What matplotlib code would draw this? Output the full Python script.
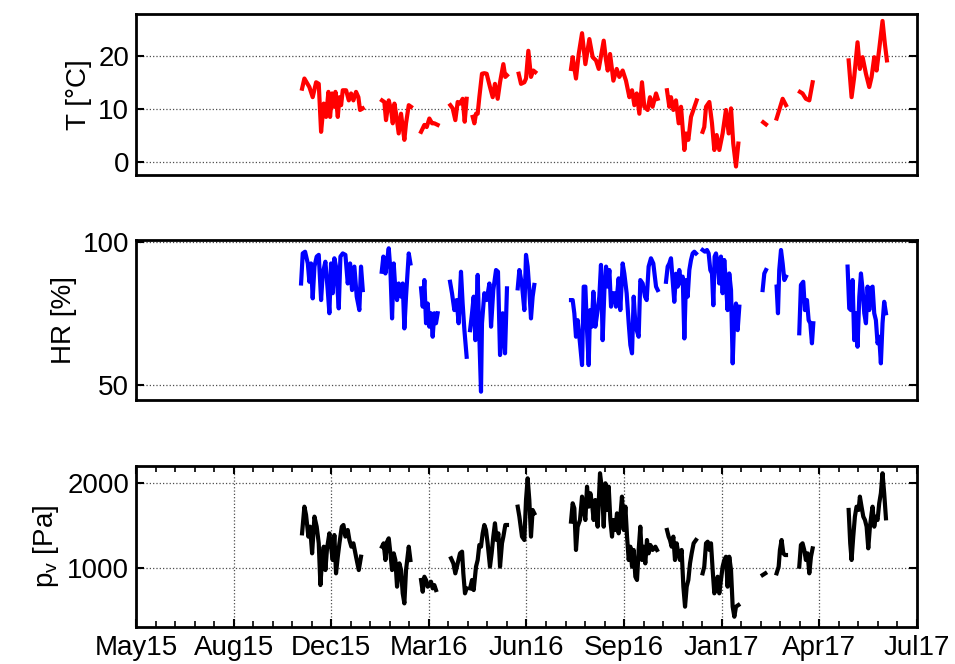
import numpy as np
import matplotlib
matplotlib.use("Agg")
import matplotlib.pyplot as plt
import matplotlib.dates as mdates
from matplotlib.ticker import FixedLocator
from datetime import datetime

plt.rcParams['font.family'] = ['Liberation Sans', 'DejaVu Sans']
plt.rcParams['mathtext.fontset'] = 'custom'
plt.rcParams['mathtext.rm'] = 'Liberation Sans'
plt.rcParams['mathtext.it'] = 'Liberation Sans'

# days since 17 May 2015, one sub-list per continuous logging period
RECORD_START = datetime(2015, 5, 17)

T_DAYS = [
    [170.1, 172.5, 177.6, 181.0, 184.5, 187.2, 189.6, 192.3, 194.7, 197.1, 198.8, 200.9, 202.9,
     204.3, 206.7, 208.4, 210.1, 211.8, 215.2, 218.0, 220.3, 222.7, 225.4, 227.8, 229.5, 232.3],
    [252.0, 254.4, 256.1, 258.9, 261.3, 263.0, 264.7, 266.4, 269.1, 271.5, 274.9, 276.6, 279.4, 281.7],
    [292.0, 295.4, 297.8, 300.5, 303.3, 305.6, 309.0],
    [322.0, 324.4, 327.1, 329.5, 331.9, 334.6, 336.7, 338.7],
    [344.9, 346.6, 348.3, 350.0, 351.7, 354.4, 356.8, 359.2, 362.6, 365.4, 367.7, 370.5, 372.9,
     376.3, 378.3, 380.0],
    [392.0, 394.4, 397.8, 399.5, 401.9, 404.6, 407.0, 409.0],
    [445.6, 447.3, 450.7, 453.5, 456.9, 460.3, 464.4, 467.8, 471.2, 474.0, 479.1, 481.5, 483.2,
     485.6, 489.0, 492.4, 495.1, 498.5, 501.9, 505.4, 508.1, 510.5, 512.9, 515.6, 518.3, 520.7,
     524.1, 526.5, 529.2, 532.7, 534.4],
    [543.9, 546.3, 548.0, 550.4, 553.1, 555.9, 558.3, 561.7, 563.4, 565.8, 568.5, 574.3],
    [580.4, 582.1, 583.9, 587.3, 590.0, 592.4, 594.8, 597.5, 600.9, 604.3, 607.1, 609.5, 611.8,
     614.6, 617.0],
    [642.5, 645.3],
    [656.2, 658.9, 662.4, 665.8],
    [680.1, 682.8, 686.2, 689.7, 693.1],
    [730.0, 733.0, 735.7, 739.1, 741.5, 744.3, 747.7, 751.1, 753.5, 756.2, 758.6, 761.3, 764.7,
     767.1, 769.2],
]
T_VALUES = [
    [13.8, 15.7, 14.1, 12.2, 15.0, 14.7, 5.7, 11.0, 8.5, 13.2, 8.5, 12.9, 10.4, 13.2, 8.5, 12.2,
     10.7, 13.5, 13.5, 11.6, 12.9, 11.6, 13.2, 12.2, 9.8, 10.1],
    [11.6, 11.3, 7.9, 11.6, 9.8, 7.3, 11.0, 9.1, 5.4, 9.1, 4.2, 7.3, 10.7, 10.4],
    [5.7, 7.0, 6.6, 8.2, 7.3, 7.3, 7.0],
    [10.7, 10.1, 7.9, 11.3, 11.0, 11.9, 7.6, 11.9],
    [8.5, 7.3, 9.1, 9.1, 12.2, 16.6, 16.7, 16.6, 14.1, 12.2, 14.7, 11.9, 15.0, 18.4, 16.0, 16.3],
    [16.6, 14.7, 15.0, 15.7, 20.9, 16.0, 17.2, 16.9],
    [17.5, 19.7, 15.7, 20.3, 24.2, 18.4, 23.1, 19.7, 19.1, 17.5, 22.8, 19.1, 17.2, 20.3, 15.3,
     17.5, 16.0, 17.2, 15.3, 12.2, 13.5, 10.7, 12.9, 9.1, 15.0, 10.4, 9.8, 12.2, 10.4, 12.9, 11.9],
    [13.5, 10.4, 12.2, 9.8, 11.6, 7.3, 10.4, 2.3, 5.4, 4.2, 8.5, 11.6],
    [5.7, 6.6, 10.4, 11.3, 7.3, 2.3, 5.1, 2.3, 5.4, 9.8, 5.4, 10.1, 3.5, -0.8, 3.5],
    [7.5, 7.1],
    [8.2, 9.8, 11.9, 10.7],
    [13.2, 12.9, 11.9, 11.6, 15.0],
    [19.1, 12.2, 16.0, 22.5, 17.5, 19.7, 16.6, 14.1, 16.0, 19.7, 17.2, 21.2, 26.5, 22.2, 19.1],
]

HR_DAYS = [
    [169.1, 170.8, 173.2, 176.0, 177.6, 179.3, 181.0, 182.8, 185.1, 187.2, 189.6, 191.3, 194.0,
     196.4, 198.1, 199.8, 201.5, 203.2, 204.9, 207.7, 209.4, 211.8, 214.5, 216.9, 219.3, 221.3,
     223.7, 226.1, 228.8, 230.5, 232.3],
    [251.7, 253.4, 255.5, 256.8, 258.9, 260.6, 262.3, 264.0, 265.7, 267.4, 269.1, 271.5, 273.2,
     274.9, 276.6, 279.4, 281.1],
    [292.0, 293.7, 295.4, 297.1, 298.8, 300.5, 302.2, 303.9, 305.6, 307.3, 309.0],
    [321.7, 323.7, 326.1, 328.4, 330.5, 332.9, 334.6, 336.4, 338.7],
    [342.2, 344.2, 345.9, 347.6, 350.0, 351.7, 353.4, 354.4, 356.8, 359.2, 362.0, 363.7, 366.0,
     368.8, 370.8, 372.9, 375.6, 378.0, 380.0],
    [391.0, 392.7, 395.4, 397.8, 399.5, 401.2, 402.9, 404.6, 406.3, 408.0],
    [445.6, 447.3, 449.0, 450.7, 452.4, 454.8, 456.9, 458.6, 460.3, 462.0, 463.7, 465.1, 466.8,
     468.5, 470.5, 472.9, 474.6, 476.3, 478.0, 479.8, 481.5, 483.2, 484.9, 486.6, 488.3, 490.0,
     491.7, 494.4, 496.1, 498.5, 500.2, 502.6, 504.7, 506.4, 508.1, 509.8, 511.5, 512.9, 514.9,
     516.6, 519.0, 521.4, 523.1, 525.1, 527.5, 529.9, 532.7, 534.4],
    [542.9, 544.6, 546.3, 548.0, 549.7, 551.4, 553.1, 554.8, 556.5, 558.3, 560.0, 561.7, 563.4,
     565.1, 566.8, 568.5, 570.2, 571.9, 573.6],
    [580.4, 582.8, 584.9, 586.6, 588.3, 590.0, 591.4, 592.7, 594.1, 595.8, 597.5, 599.2, 600.9,
     602.6, 604.3, 606.0, 607.7, 609.5, 611.2, 612.9, 614.6, 616.3, 618.0],
    [641.9, 643.6, 645.3],
    [656.2, 657.6, 658.9, 660.7, 662.4, 664.1, 665.8],
    [679.4, 681.1, 683.5, 685.2, 687.3, 689.0, 690.7, 692.4, 693.8],
    [728.9, 730.6, 732.3, 734.0, 735.7, 737.4, 739.1, 740.9, 742.6, 744.3, 746.0, 747.7, 749.4,
     751.1, 752.8, 754.5, 756.2, 757.9, 759.6, 761.3, 763.0, 764.7, 766.4, 768.2],
]
HR_VALUES = [
    [85.5, 96.0, 96.6, 92.5, 86.1, 92.5, 80.3, 91.4, 94.9, 95.5, 79.7, 89.0, 93.1, 83.2, 75.1,
     92.5, 82.1, 94.3, 91.4, 76.8, 94.9, 96.0, 95.5, 85.5, 92.5, 83.2, 91.4, 80.9, 76.2, 91.4, 83.2],
    [89.6, 94.9, 89.0, 92.5, 97.8, 90.2, 73.3, 92.5, 83.2, 79.7, 85.5, 80.9, 85.5, 69.8, 80.9,
     96.0, 92.5],
    [83.8, 77.4, 86.7, 71.6, 78.5, 70.4, 75.1, 66.9, 75.1, 71.6, 75.1],
    [86.1, 82.1, 76.2, 79.7, 71.6, 89.6, 78.5, 69.2, 59.9],
    [69.2, 75.1, 80.9, 65.7, 88.5, 66.9, 47.7, 71.6, 82.1, 79.7, 85.5, 70.4, 83.2, 90.2, 89.6,
     60.5, 75.1, 61.1, 83.8],
    [83.8, 90.2, 85.0, 76.2, 95.5, 91.4, 83.2, 73.3, 80.9, 85.0],
    [79.7, 79.7, 75.1, 66.9, 72.7, 64.6, 57.0, 84.4, 84.4, 69.2, 57.0, 76.2, 70.4, 82.6, 70.4,
     76.2, 80.9, 92.0, 65.7, 83.2, 91.4, 84.4, 90.2, 77.4, 82.1, 82.1, 77.4, 87.3, 76.2, 92.5,
     89.0, 82.1, 71.6, 64.0, 61.1, 80.9, 71.6, 69.2, 66.9, 86.7, 85.5, 80.9, 79.7, 91.4, 94.3,
     92.5, 84.4, 83.2],
    [86.1, 91.4, 92.5, 94.3, 86.7, 79.1, 88.9, 84.4, 90.2, 85.5, 87.9, 66.3, 86.7, 80.9, 90.2,
     93.7, 96.0, 96.6, 96.0],
    [97.2, 96.6, 97.2, 96.0, 90.2, 89.0, 77.9, 94.9, 96.0, 92.5, 85.5, 94.9, 82.1, 93.7, 85.5,
     76.2, 89.0, 83.2, 57.6, 75.1, 78.5, 69.2, 77.4],
    [83.2, 89.0, 90.2],
    [84.4, 75.1, 90.2, 97.2, 92.5, 86.7, 87.9],
    [68.1, 85.0, 86.1, 76.2, 79.7, 72.7, 71.6, 64.6, 71.6],
    [91.4, 76.8, 76.2, 86.7, 65.7, 75.1, 63.4, 80.9, 89.0, 83.2, 75.1, 71.6, 84.4, 76.2, 83.8,
     84.4, 75.1, 72.7, 64.6, 66.9, 57.6, 71.6, 79.1, 75.1],
]

PV_DAYS = [
    [170.1, 172.5, 174.2, 176.6, 178.3, 180.4, 182.8, 185.1, 187.2, 188.9, 190.6, 192.3, 194.0,
     195.7, 198.1, 199.8, 201.5, 203.2, 204.9, 206.7, 208.4, 210.8, 212.5, 214.5, 216.9, 218.6,
     220.6, 222.7, 225.4, 228.2, 230.5],
    [252.0, 253.7, 255.5, 257.2, 258.9, 260.6, 262.3, 264.0, 265.7, 267.4, 269.8, 271.5, 273.2,
     274.9, 276.6, 279.4, 281.1],
    [292.0, 293.7, 295.4, 297.1, 298.8, 300.5, 302.2, 303.9, 305.6, 307.3],
    [322.7, 325.1, 327.1, 329.5, 331.9, 334.0, 335.3, 337.0, 338.7],
    [342.2, 344.2, 345.9, 348.3, 350.0, 351.7, 353.4, 355.1, 356.8, 358.5, 360.2, 362.6, 364.3,
     366.0, 367.7, 369.4, 371.2, 372.9, 374.9, 376.3, 378.3, 380.0],
    [391.0, 392.7, 395.4, 397.8, 399.5, 401.2, 402.9, 404.6, 406.3, 408.0],
    [445.6, 447.3, 449.0, 450.7, 452.4, 454.8, 456.9, 458.6, 460.3, 462.0, 463.7, 465.4, 467.1,
     468.8, 470.5, 472.9, 475.3, 477.4, 479.1, 480.8, 482.5, 484.2, 485.9, 487.6, 489.0, 491.0,
     492.7, 494.4, 496.1, 497.8, 499.6, 501.3, 503.0, 504.7, 506.4, 508.1, 509.8, 511.5, 513.2,
     514.9, 516.6, 518.3, 520.0, 521.7, 523.4, 525.1, 526.9, 529.2, 532.0, 533.7],
    [543.9, 545.6, 547.0, 548.7, 550.4, 552.1, 553.8, 555.5, 557.2, 558.9, 560.7, 562.4, 564.1,
     565.8, 567.5, 569.2, 571.2, 573.6],
    [580.4, 582.1, 583.9, 585.6, 587.3, 589.0, 590.7, 592.4, 594.1, 595.8, 597.5, 599.2, 600.9,
     602.6, 604.3, 606.0, 607.7, 609.5, 611.2, 612.9, 614.6, 617.0],
    [641.9, 644.6],
    [656.2, 658.3, 659.6, 661.3, 663.1, 664.8, 665.8],
    [679.4, 681.1, 682.8, 684.5, 686.2, 687.9, 689.7, 691.4, 693.1],
    [730.0, 731.6, 733.0, 734.7, 736.4, 738.1, 740.2, 741.5, 743.2, 745.0, 746.7, 748.4, 750.1,
     751.8, 753.5, 754.5, 756.2, 757.9, 759.6, 761.3, 763.0, 764.7, 766.4, 768.2],
]
PV_VALUES = [
    [1407, 1723, 1625, 1368, 1486, 1170, 1605, 1486, 1289, 794, 1091, 1249, 972, 1229, 1407, 1249,
     1091, 1387, 933, 1130, 1289, 1486, 1506, 1368, 1447, 1328, 1249, 1289, 1130, 972, 1130],
    [1249, 1289, 1091, 1308, 1348, 1170, 972, 1170, 1091, 775, 1051, 972, 696, 577, 972, 1249, 1091],
    [854, 715, 893, 854, 775, 794, 834, 755, 794, 735],
    [1111, 1051, 933, 1051, 1170, 1190, 933, 696, 755],
    [755, 854, 735, 1012, 1091, 1269, 1249, 1407, 1506, 1447, 1289, 1012, 1170, 1368, 1526, 1328,
     1407, 1012, 1289, 1368, 1506, 1506],
    [1723, 1605, 1368, 1328, 1802, 2059, 1802, 1368, 1684, 1644],
    [1546, 1763, 1704, 1210, 1486, 1565, 1842, 1684, 1565, 1960, 1723, 1882, 1763, 1565, 1802,
     1486, 2119, 1921, 1486, 2000, 1684, 1960, 1565, 1368, 1565, 1447, 1644, 1407, 1605, 1842,
     1447, 1723, 1368, 1091, 1249, 1012, 1210, 893, 854, 1210, 1486, 1091, 1249, 1051, 1328,
     1170, 1269, 1210, 1249, 1210],
    [1447, 1368, 1328, 1249, 1368, 1091, 1289, 1170, 1091, 1210, 775, 538, 775, 854, 1051, 1170,
     1289, 1328],
    [933, 1012, 1289, 1308, 1210, 1289, 972, 696, 775, 893, 696, 854, 1012, 1091, 1130, 775, 1130,
     972, 538, 419, 538, 557],
    [913, 933],
    [933, 1012, 1210, 1328, 1170, 1150, 1150],
    [1012, 1269, 1289, 1210, 1091, 1170, 933, 1130, 1229],
    [1684, 1289, 1091, 1368, 1605, 1723, 1684, 1842, 1723, 1605, 1565, 1486, 1229, 1486, 1644,
     1723, 1486, 1605, 1565, 1763, 1882, 2119, 1882, 1585],
]

T_TICKS = [0, 10, 20]
HR_TICKS = [50, 100]
PV_TICKS = [1000, 2000]


def draw_panel(ax, days, values, color, ticks, ylim, ylabel):
    base = mdates.date2num(RECORD_START)
    for d, v in zip(days, values):
        ax.plot(base + np.array(d), v, color=color, linewidth=3.0)
    ax.set_xlim(base, base + 800)
    ax.set_ylim(*ylim)
    ax.set_yticks(ticks)
    ax.set_ylabel(ylabel, fontsize=20, labelpad=4)
    ax.tick_params(axis='y', direction='in', length=6, width=1.5, labelsize=20,
                   right=True, pad=5)
    ax.yaxis.grid(True, linestyle=':', color='0.3', linewidth=0.9)
    for s in ax.spines.values():
        s.set_linewidth(2.0)


fig = plt.figure(figsize=(9.55, 6.64), dpi=100)
left, width = 0.1424, 0.8178
ax1 = fig.add_axes([left, 0.7364, width, 0.2425])
ax2 = fig.add_axes([left, 0.3976, width, 0.2410])
ax3 = fig.add_axes([left, 0.0557, width, 0.2425])

draw_panel(ax1, T_DAYS, T_VALUES, (1, 0, 0), T_TICKS, (-2.4, 27.8), 'T [°C]')
draw_panel(ax2, HR_DAYS, HR_VALUES, (0, 0, 1), HR_TICKS, (44.8, 100.7), 'HR [%]')
draw_panel(ax3, PV_DAYS, PV_VALUES, 'black', PV_TICKS, (297, 2205), 'p$_\\mathrm{v}$ [Pa]')

for ax in (ax1, ax2):
    ax.set_xticks([])

# time axis: nine evenly spaced date ticks, minor ticks every 20 days
base = mdates.date2num(RECORD_START)
ax3.xaxis.set_major_locator(FixedLocator(base + np.arange(0, 801, 100)))
ax3.xaxis.set_minor_locator(FixedLocator(base + np.arange(0, 801, 20)))
ax3.xaxis.set_major_formatter(mdates.DateFormatter('%b%y'))
ax3.tick_params(axis='x', which='major', direction='in', length=6, width=1.5,
                top=True, labelsize=20, pad=6)
ax3.tick_params(axis='x', which='minor', direction='in', length=4, width=1.2, top=True)
ax3.xaxis.grid(True, which='major', linestyle=':', color='0.3', linewidth=0.9)

fig.savefig('out.png', dpi=100)
